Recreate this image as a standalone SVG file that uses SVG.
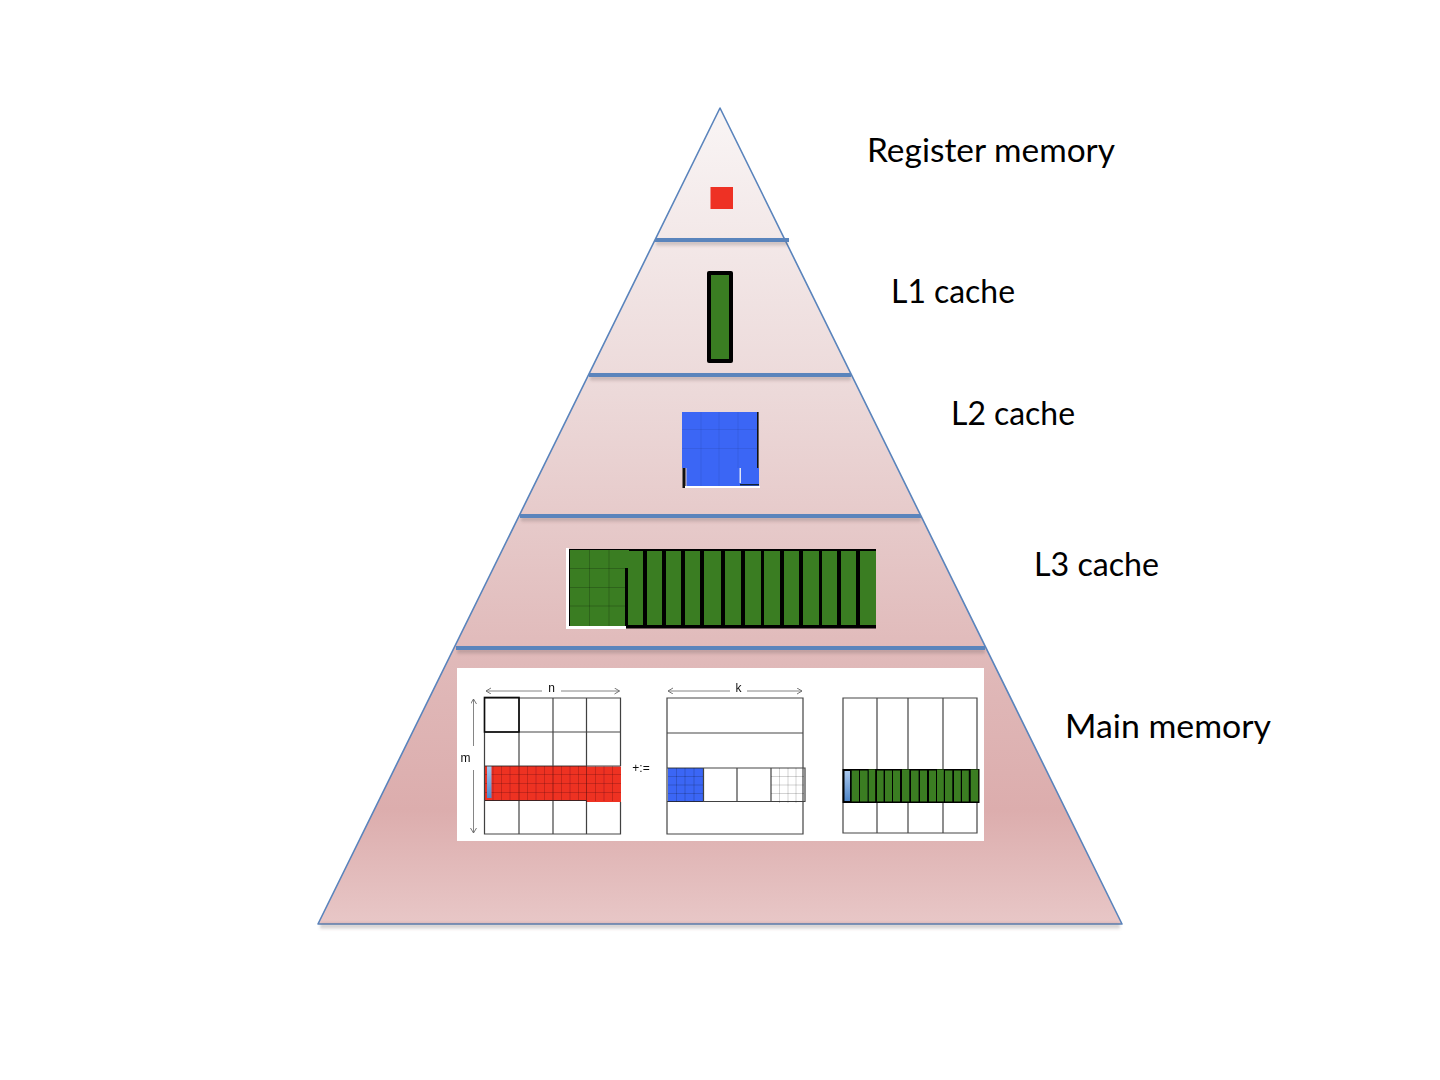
<svg xmlns="http://www.w3.org/2000/svg" width="1440" height="1080" viewBox="0 0 1440 1080">
<style>
.lbl{font-family:"Lato","Carlito","Open Sans",sans-serif;font-size:33px;fill:#000}
.small{font-family:"Liberation Sans",Arial,sans-serif;font-size:12px;fill:#111}
.band{stroke:#5a84bc;stroke-width:4;fill:none}
.bandsh{stroke:#5f4a4a;stroke-opacity:.25;stroke-width:5;fill:none;filter:url(#soft)}
.gl{stroke:#222;stroke-width:1.2;fill:none;stroke-opacity:.85}
.fine{stroke:#000;stroke-opacity:.22;stroke-width:.8;fill:none}
.arr{stroke:#777;stroke-width:.9;fill:none;marker-end:url(#ah)}
.red{fill:#ee3124}.grn{fill:#3a7d22}.blu{fill:#3b66f5}
</style>
<defs>
<linearGradient id="pyr" gradientUnits="userSpaceOnUse" x1="0" y1="108" x2="0" y2="924">
<stop offset="0" stop-color="#f9f5f5"/>
<stop offset="0.35" stop-color="#ecd9d9"/>
<stop offset="0.68" stop-color="#e0b9b9"/>
<stop offset="0.86" stop-color="#dcadad"/>
<stop offset="1" stop-color="#e8c7c7"/>
</linearGradient>
<linearGradient id="bar" x1="0" y1="0" x2="0" y2="1">
<stop offset="0" stop-color="#a9c8ee"/><stop offset="1" stop-color="#4f86c8"/>
</linearGradient>
<filter id="soft" x="-5%" y="-300%" width="110%" height="700%"><feGaussianBlur stdDeviation="1.5"/></filter>
<filter id="img" x="-2%" y="-2%" width="104%" height="104%"><feGaussianBlur stdDeviation="0.45"/></filter>
<marker id="ah" markerWidth="7" markerHeight="7" refX="5.5" refY="3" orient="auto" markerUnits="userSpaceOnUse"><path d="M0.5 0L5.5 3L0.5 6" fill="none" stroke="#666" stroke-width=".9"/></marker>
</defs>

<g id="pyramid">
<path d="M720 108L1122 924H318Z" fill="url(#pyr)" stroke="#5a84bc" stroke-width="1.6" stroke-linejoin="round"/>
<path class="bandsh" d="M656 243H788M590 378H851M521 519H921M457 651H985M320 926H1120"/>
<path class="band" d="M655 240H789M589 375H851M520 516H921M456 648H985"/>
</g>

<g id="register-memory">
<rect class="red" x="710.5" y="187" width="22.5" height="22"/>
<text class="lbl" x="867" y="162" textLength="248" lengthAdjust="spacingAndGlyphs">Register memory</text>
</g>

<g id="l1-cache">
<rect x="707" y="271" width="26" height="92" rx="2" fill="#000"/>
<rect class="grn" x="711" y="275" width="18" height="84"/>
<text class="lbl" x="891" y="303" textLength="124" lengthAdjust="spacingAndGlyphs">L1 cache</text>
</g>

<g id="l2-cache">
<rect x="757" y="412" width="1.6" height="56" fill="#111"/>
<rect x="682.5" y="468" width="3" height="20" fill="#111"/>
<rect x="685" y="486" width="75" height="2" fill="#fff"/>
<rect class="blu" x="682" y="412" width="75" height="56"/>
<rect class="blu" x="686.5" y="468" width="72.500" height="18"/>
<rect x="739.5" y="468" width="1.5" height="15" fill="#dfe4f5"/>
<rect x="740" y="484" width="19" height="1.4" fill="#123"/>
<path d="M682 429.500H757M682 448.500H757M701 412V486M719 412V486M738 412V468" stroke="#000" stroke-opacity=".07" stroke-width="1" fill="none"/>
<text class="lbl" x="951" y="425" textLength="124" lengthAdjust="spacingAndGlyphs">L2 cache</text>
</g>

<g id="l3-cache">
<rect x="566" y="548" width="3" height="81" fill="#fff"/>
<rect x="569" y="549" width="307" height="79.500" fill="#000"/>
<rect x="569" y="626" width="57" height="3" fill="#fff"/>
<rect class="grn" x="570" y="550" width="55" height="76"/>
<rect class="grn" x="625" y="550" width="4" height="18"/>
<g class="grn">
<rect x="628" y="551" width="15" height="74"/><rect x="647" y="551" width="15" height="74"/>
<rect x="666" y="551" width="15" height="74"/><rect x="685" y="551" width="15" height="74"/>
<rect x="704" y="551" width="17" height="74"/><rect x="725" y="551" width="16" height="74"/>
<rect x="745" y="551" width="16" height="74"/><rect x="764" y="551" width="16" height="74"/>
<rect x="784" y="551" width="15" height="74"/><rect x="803" y="551" width="16" height="74"/>
<rect x="822" y="551" width="15" height="74"/><rect x="841" y="551" width="15" height="74"/>
<rect x="860" y="551" width="16" height="74"/>
</g>
<path d="M570 568.500H625M570 587.500H625M570 606H625M589.500 550V626M609 550V626" stroke="#000" stroke-opacity=".2" stroke-width="1" fill="none"/>
<text class="lbl" x="1034" y="576" textLength="125" lengthAdjust="spacingAndGlyphs">L3 cache</text>
</g>

<g id="main-memory">
<rect x="457" y="668" width="527" height="173" fill="#fff"/>
<g filter="url(#img)">
<g id="matrix-a">
<rect class="red" x="485" y="766" width="102" height="35"/>
<rect class="red" x="586" y="766.500" width="35" height="35.500"/>
<path class="fine" d="M485 774.500H621M485 783.500H621M485 792.500H621M493 766V801M501.500 766V801M510 766V801M527.500 766V801M536 766V801M544.500 766V801M561.500 766V801M570 766V801M578.500 766V801M595.500 766V801M604 766V801M612.500 766V801"/>
<path d="M519 766V801M553 766V801M586.500 766V801" stroke="#000" stroke-opacity=".35" stroke-width="1" fill="none"/>
<rect x="487" y="766" width="4.500" height="32" fill="url(#bar)"/>
<path class="gl" d="M484.500 698H620.500V766M620.500 802V834H484.500V698M519 698V766M519 801V834M553 698V766M553 801V834M586.500 698V766M586.500 801V834M484.500 732H620.500M484.500 766H620.500M484.500 800.500H586.500"/>
<rect x="484.500" y="697.500" width="34.500" height="34.500" fill="none" stroke="#111" stroke-width="1.600"/>
<path class="arr" d="M542 691H486"/><path class="arr" d="M561 691H619.500"/>
<path class="arr" d="M473.500 746V699"/><path class="arr" d="M473.500 770V833"/>
<text class="small" x="551.500" y="691.500" text-anchor="middle">n</text>
<text class="small" x="465.500" y="762" text-anchor="middle">m</text>
</g>
<text class="small" x="641" y="772" text-anchor="middle">+:=</text>
<g id="matrix-b">
<rect class="blu" x="668" y="768" width="35" height="34"/>
<path class="fine" d="M668 776.500H703M668 785H703M668 793.500H703M676.500 768V802M685 768V802M694 768V802"/>
<path class="gl" d="M667 698H803V834H667ZM667 733H803M667 768H805V801.500H667M703.500 768V801.500M737 768V801.500M771 768V801.500"/>
<path class="fine" d="M771 776.500H804M771 785H804M771 793.500H804M779.500 768V803M788 768V803M796 768V803"/>
<path class="arr" d="M730 691H668"/><path class="arr" d="M747 691H802"/>
<text class="small" x="738.500" y="691.500" text-anchor="middle">k</text>
</g>
<g id="matrix-c">
<path class="gl" d="M843 698H977V833H843ZM877 698V833M908 698V833M943 698V833"/>
<rect x="842.500" y="769" width="137" height="34" fill="#000"/>
<rect x="844.500" y="771" width="5.500" height="30" fill="url(#bar)"/>
<g class="grn">
<rect x="851.700" y="770.500" width="7.300" height="31"/><rect x="860" y="770.500" width="7.600" height="31"/><rect x="868.700" y="769.500" width="6.500" height="32"/>
<rect x="877" y="770.500" width="6.600" height="31"/><rect x="885" y="770.500" width="7" height="31"/><rect x="893" y="770.500" width="7" height="31"/>
<rect x="902" y="769.500" width="7.300" height="32"/><rect x="911" y="770.500" width="7.600" height="31"/><rect x="920" y="770.500" width="7" height="31"/>
<rect x="929" y="770.500" width="7" height="31"/><rect x="937" y="769.500" width="6.800" height="32"/><rect x="945" y="770.500" width="7.300" height="31"/>
<rect x="954" y="770.500" width="6.800" height="31"/><rect x="962" y="770.500" width="6.800" height="31"/><rect x="970.700" y="769.500" width="7.500" height="32"/>
</g>
</g>
</g>
<text class="lbl" x="1065" y="738" textLength="206" lengthAdjust="spacingAndGlyphs">Main memory</text>
</g>
</svg>
